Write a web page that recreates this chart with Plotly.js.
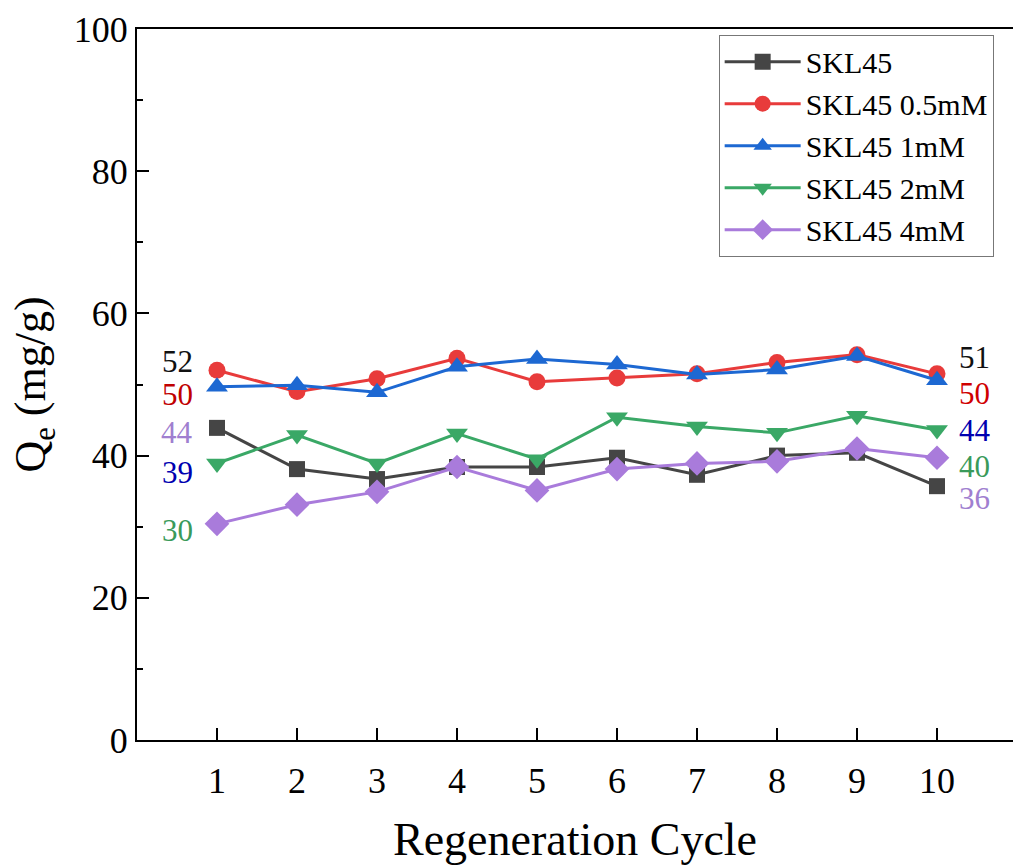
<!DOCTYPE html>
<html><head><meta charset="utf-8">
<script src="https://cdn.plot.ly/plotly-3.0.1.min.js"></script>
<style>body{margin:0;background:#fff}#chart{width:1013px;height:865px}</style>
</head><body><div id="chart"></div>
<script>
const cycles = [1,2,3,4,5,6,7,8,9,10];
const seriesNames = ["SKL45","SKL45 0.5mM","SKL45 1mM","SKL45 2mM","SKL45 4mM"];
const skl45   = [43.9,38.1,36.7,38.4,38.4,39.7,37.3,40.0,40.4,35.7];
const skl05   = [52.0,49.0,50.8,53.7,50.4,50.9,51.5,53.1,54.2,51.5];
const skl1    = [49.7,49.9,48.9,52.5,53.6,52.8,51.4,52.1,54.0,50.6];
const skl2    = [38.9,42.9,38.9,43.1,39.5,45.4,44.1,43.2,45.6,43.6];
const skl4    = [30.4,33.1,34.9,38.4,35.1,38.1,38.9,39.2,41.0,39.7];
const leftLabels  = ["52","50","44","39","30"];
const leftLabelY  = [53.2,48.6,43.3,37.6,29.5];
const rightLabels = ["51","50","44","40","36"];
const rightLabelY = [53.8,48.8,43.6,38.4,34.0];
const yTicks = [0,20,40,60,80,100];

const colors = ["#454545","#e83b3b","#1d68d2","#3aa866","#a97bdb"];
const symbols = ["square","circle","triangle-up","triangle-down","diamond"];
const sizes = [16,17,19,19,19];
const leftColors  = ["#111111","#c00000","#a07fd0","#0000b0","#3a9a5a"];
const rightColors = ["#111111","#d00000","#0000b0","#3a9a5a","#a07fd0"];
const allSeries = [skl45, skl05, skl1, skl2, skl4];

const traces = allSeries.map((ys,i)=>({
  x: cycles, y: ys, name: seriesNames[i], type:'scatter', mode:'lines+markers',
  line:{color:colors[i], width:3},
  marker:{symbol:symbols[i], size:sizes[i], color:colors[i]}
}));

const font = "Liberation Serif, Times New Roman, serif";
const annotations = [];
leftLabels.forEach((t,i)=>annotations.push({x:0.5,y:leftLabelY[i],xref:'x',yref:'y',text:t,showarrow:false,
  font:{family:font,size:31,color:leftColors[i]}}));
rightLabels.forEach((t,i)=>annotations.push({x:10.47,y:rightLabelY[i],xref:'x',yref:'y',text:t,showarrow:false,
  font:{family:font,size:31,color:rightColors[i]}}));

const layout = {
  width:1013, height:865,
  margin:{l:137,r:0,t:29,b:125},
  paper_bgcolor:'#fff', plot_bgcolor:'#fff',
  font:{family:font,color:'#000'},
  showlegend:true,
  legend:{x:0.664,y:0.992,xanchor:'left',yanchor:'top',bgcolor:'#fff',bordercolor:'#777',borderwidth:1,
    font:{family:font,size:30,color:'#000'},itemwidth:76,tracegroupgap:0},
  xaxis:{range:[0,10.95],tickvals:cycles,ticks:'inside',ticklen:12,tickwidth:2,tickcolor:'#000',
    showline:true,linewidth:2,linecolor:'#000',mirror:true,showgrid:false,zeroline:false,
    tickfont:{family:font,size:36,color:'#000'},ticklabelstandoff:8,
    title:{text:'Regeneration Cycle',font:{family:font,size:46,color:'#000'},standoff:26}},
  yaxis:{range:[0,100],tickvals:yTicks,ticks:'inside',ticklen:12,tickwidth:2,tickcolor:'#000',
    showline:true,linewidth:2,linecolor:'#000',mirror:false,showgrid:false,zeroline:false,
    tickfont:{family:font,size:36,color:'#000'},
    minor:{tickvals:[10,30,50,70,90],ticks:'inside',ticklen:6,tickwidth:2,tickcolor:'#000',showgrid:false},
    title:{text:'Q<sub>e</sub> (mg/g)',font:{family:font,size:44,color:'#000'},standoff:14}},
  annotations: annotations
};
Plotly.newPlot('chart', traces, layout, {displayModeBar:false});
</script></body></html>
